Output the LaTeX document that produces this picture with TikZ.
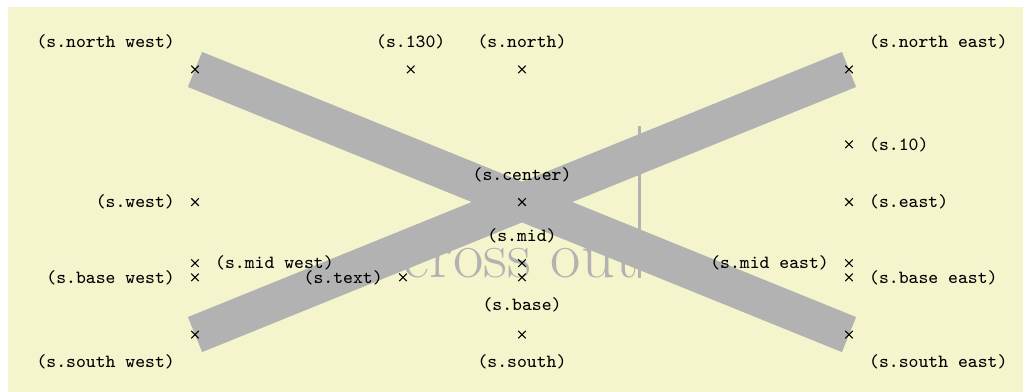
\documentclass[tikz,border=0pt]{standalone}
\usepackage{xcolor}
\usepackage{tikz}
\usetikzlibrary{shapes.misc}
\definecolor{paleYellow}{RGB}{244,245,204}

\begin{document}
\Huge
\begin{tikzpicture}[
  shape example/.style={color=black!30, draw, line width=.5cm, inner xsep=2.5cm, inner ysep=0.5cm},
  anchor label/.style={font=\scriptsize\ttfamily, inner sep=7.4pt}
]

  % Frame and background
  \useasboundingbox (-6.905,-2.513) rectangle (6.627,2.672);
  \fill[paleYellow] (-6.799,-2.513) rectangle (6.627,2.579);

  % The shape
  \node[name=s, shape=cross out, shape example] at (0,0) {cross out\vrule width 1pt height 2cm};

  % Anchors
  \foreach \anchor/\placement [count=\i] in
    {north west/above left, north/above, north east/above right,
     west/left, center/above, east/right,
     mid west/right, mid/above, mid east/left,
     base west/left, base/below, base east/right,
     south west/below left, south/below, south east/below right,
     text/left, 10/right, 130/above}
    \draw[shift=(s.\anchor)] plot[mark=x] coordinates{(0,0)}
      node[\placement, anchor label] (lb\i) {(s.\anchor)};

\end{tikzpicture}
\end{document}
